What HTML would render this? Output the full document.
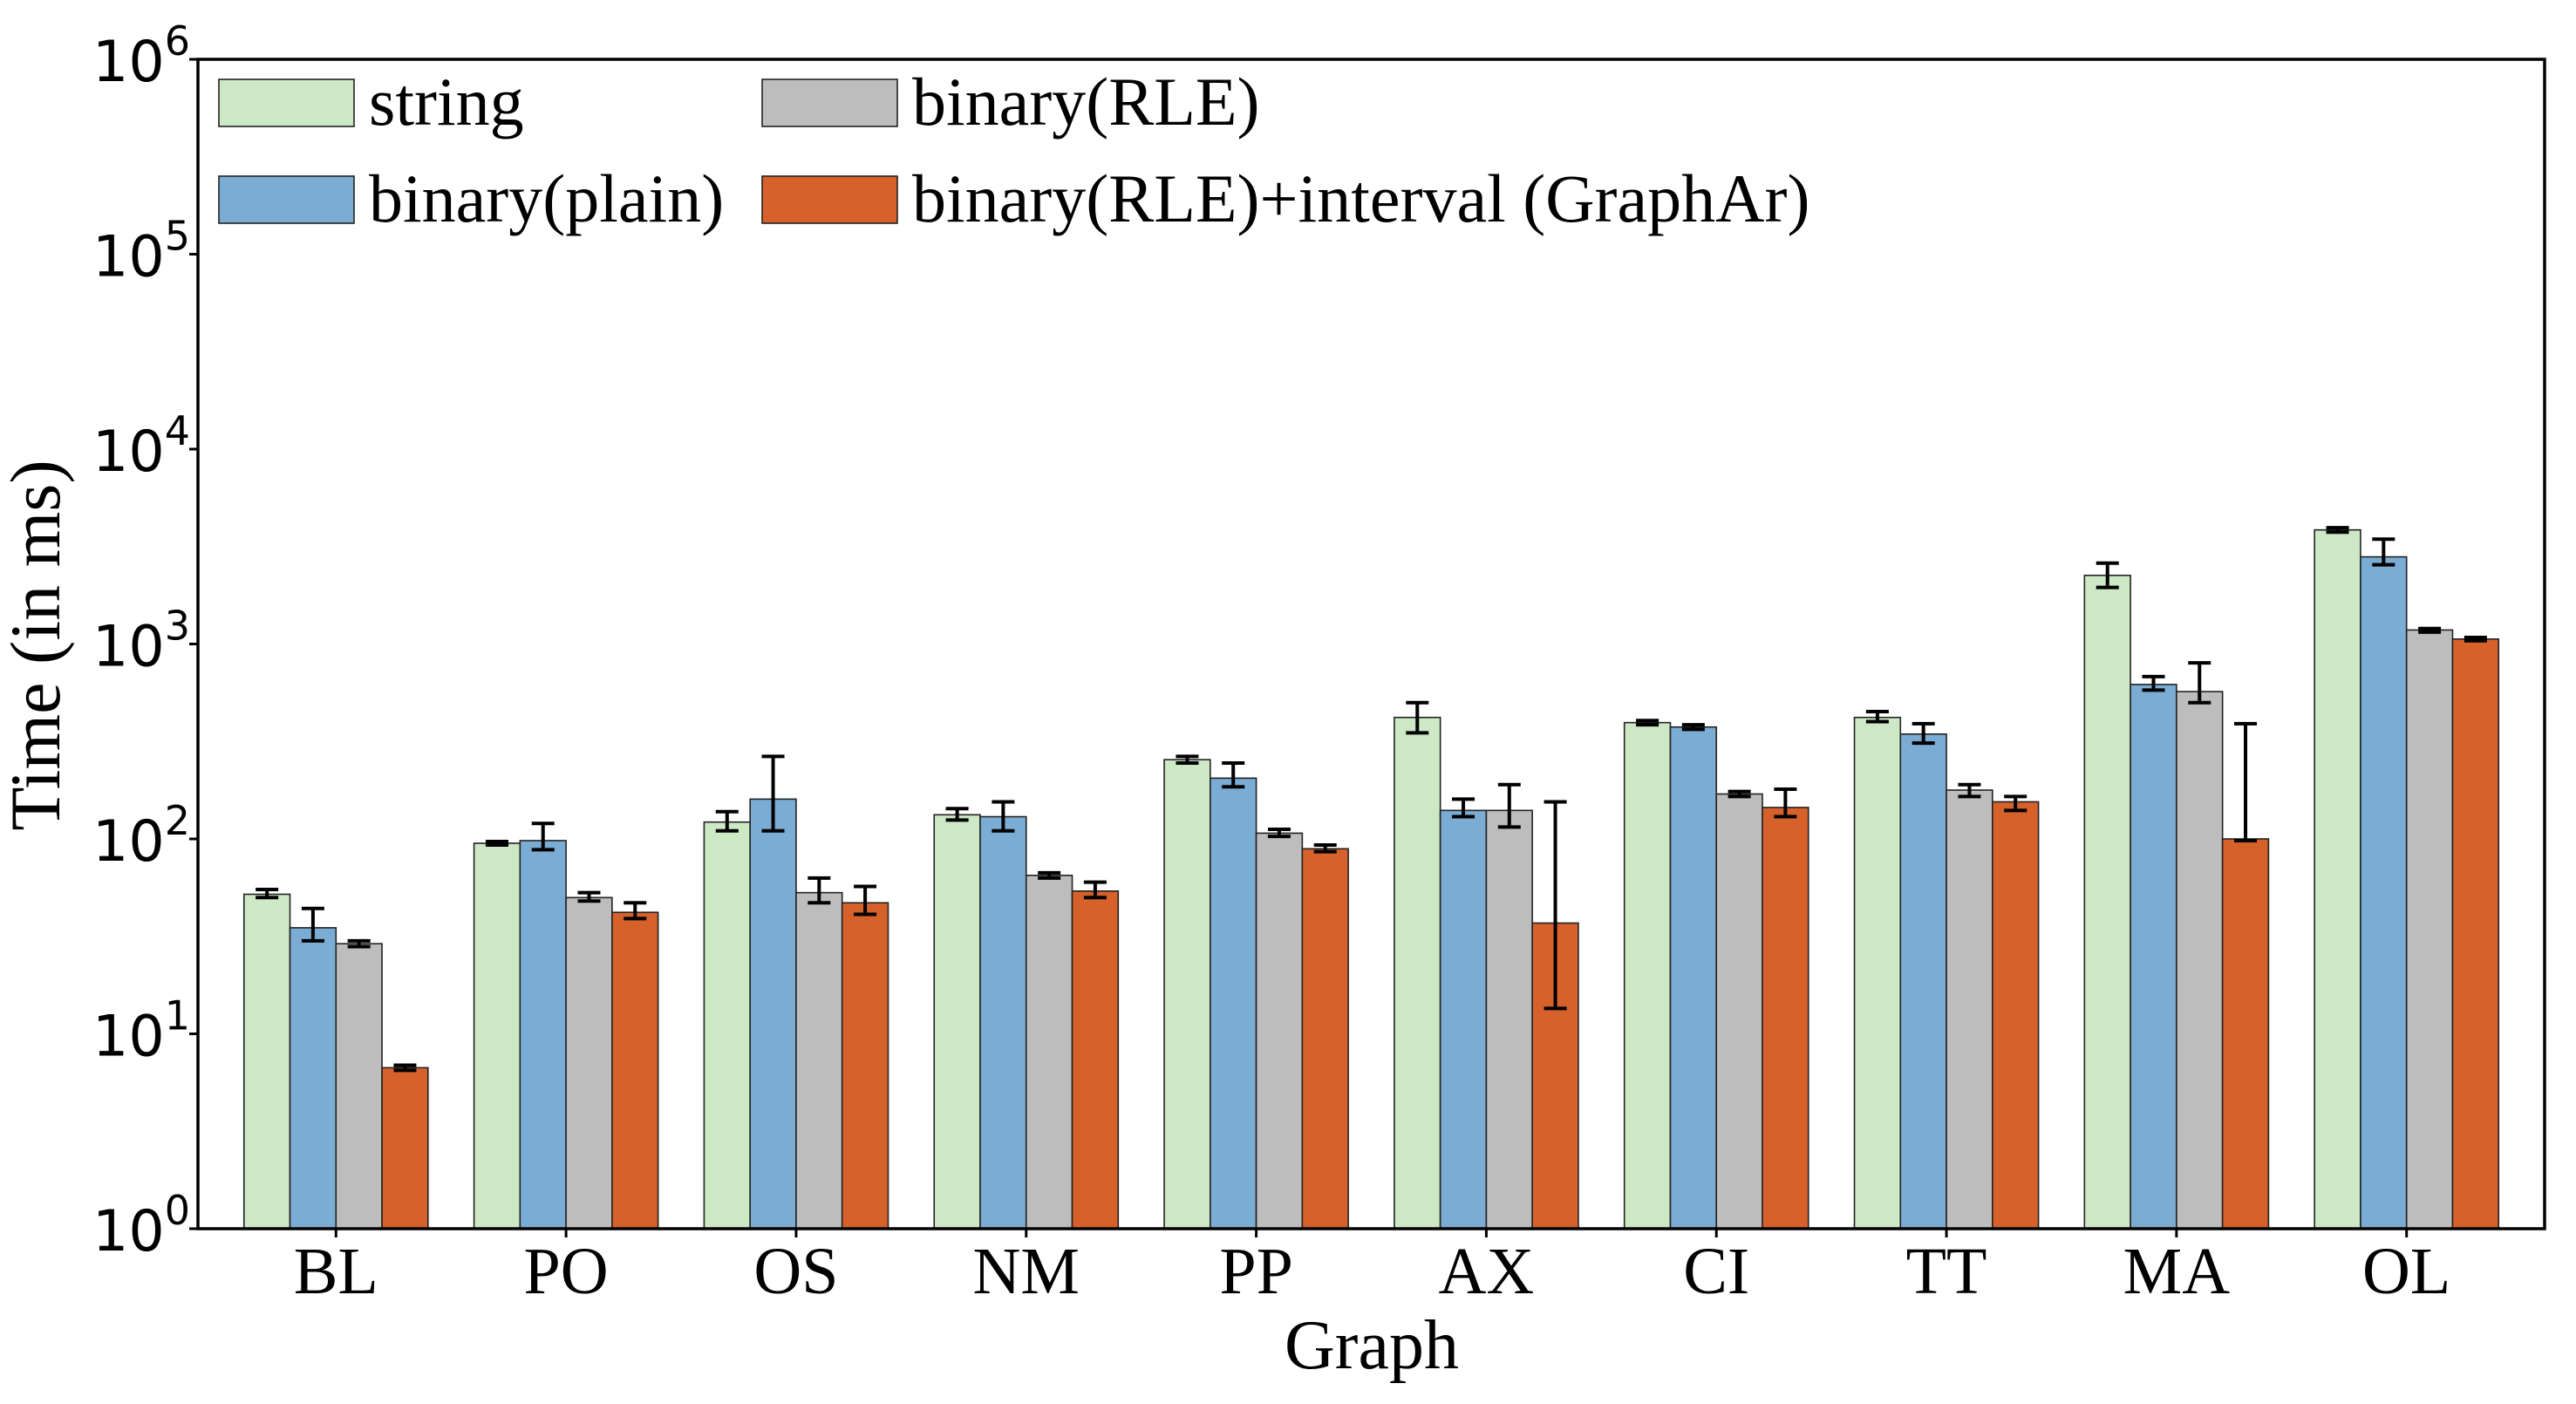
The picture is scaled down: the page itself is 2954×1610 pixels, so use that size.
<!DOCTYPE html>
<html><head><meta charset="utf-8"><style>
html,body{margin:0;padding:0;background:#fff;}
svg{display:block;}
.tm{font-family:"Liberation Serif",serif;fill:#000;}
.dj{font-family:"DejaVu Sans",sans-serif;fill:#000;}
</style></head><body>
<svg id="chart" width="2954" height="1610" viewBox="0 0 2954 1610" xmlns="http://www.w3.org/2000/svg">
<g id="bars"></g>
<g id="errs"></g>
<g id="axes"></g>
<g id="legend"></g>
</svg>
<script>
const categories = ["BL","PO","OS","NM","PP","AX","CI","TT","MA","OL"];
const seriesNames = ["string","binary(plain)","binary(RLE)","binary(RLE)+interval (GraphAr)"];
const stringVals = [52,95,122,133,255,420,395,420,2250,3850];
const stringLo = [50,93,110,125,245,350,385,400,1950,3750];
const stringHi = [55,97,138,143,265,500,405,450,2600,3950];
const plainVals = [35,98,160,130,205,140,375,345,620,2800];
const plainLo = [30,88,110,110,185,130,365,310,580,2550];
const plainHi = [44,120,265,155,245,160,385,390,680,3450];
const rleVals = [29,50,53,65,107,140,170,178,570,1180];
const rleLo = [28,48,47,63,103,115,165,165,500,1150];
const rleHi = [30,53,63,67,112,190,175,190,800,1200];
const graphArVals = [6.7,42,47,54,89,37,145,155,100,1060];
const graphArLo = [6.5,39,41,50,86,13.5,130,140,98,1040];
const graphArHi = [6.9,47,57,60,93,155,180,165,390,1080];
const yTickExps = [0,1,2,3,4,5,6];

const NS="http://www.w3.org/2000/svg";
const L=227,R=2918,T=68,B=1409;
const step=(R-L)/(categories.length-1+1.2);
const bw=step*0.2;
function xC(i){return L+step*0.6+i*step;}
function yS(v){return B-(Math.log10(v)-0)/6*(B-T);}
function mk(tag,attrs,parent){const e=document.createElementNS(NS,tag);for(const k in attrs)e.setAttribute(k,attrs[k]);parent.appendChild(e);return e;}
const colors=["#cde8c5","#7bacd3","#bdbdbd","#d6612b"];
const vals=[stringVals,plainVals,rleVals,graphArVals];
const los=[stringLo,plainLo,rleLo,graphArLo];
const his=[stringHi,plainHi,rleHi,graphArHi];
const gb=document.getElementById('bars'),ge=document.getElementById('errs'),ga=document.getElementById('axes'),gl=document.getElementById('legend');
for(let s=0;s<4;s++){
  for(let i=0;i<categories.length;i++){
    const x=xC(i)-2*bw+s*bw, y=yS(vals[s][i]);
    const r=mk('rect',{x:x,y:y,width:bw,height:B-y,fill:colors[s],stroke:'#222','stroke-width':1.6},gb);
    
    
    const cx=x+bw/2, y1=yS(los[s][i]), y2=yS(his[s][i]);
    const g=mk('g',{stroke:'#000','stroke-width':4},ge);
    
    
    mk('line',{x1:cx,x2:cx,y1:y1,y2:y2},g);
    mk('line',{x1:cx-13,x2:cx+13,y1:y1,y2:y1},g);
    mk('line',{x1:cx-13,x2:cx+13,y1:y2,y2:y2},g);
  }
}
const fr=mk('rect',{x:L,y:T,width:R-L,height:B-T,fill:'none',stroke:'#000','stroke-width':3.5},ga);


yTickExps.forEach(e=>{
  const y=yS(Math.pow(10,e));
  mk('line',{x1:L-10,x2:L,y1:y,y2:y,stroke:'#000','stroke-width':3},ga);
  const t=mk('text',{x:106,y:y+25,class:'dj','font-size':65},ga);
  
  
  t.textContent='10';
  const sp=mk('tspan',{dy:-30,'font-size':46},t);
  sp.textContent=String(e);
});
categories.forEach((c,i)=>{
  const x=xC(i);
  mk('line',{x1:x,x2:x,y1:B,y2:B+10,stroke:'#000','stroke-width':3},ga);
  const t=mk('text',{x:x,y:1483,class:'tm','font-size':76,'text-anchor':'middle'},ga);
  
  
  t.textContent=c;
});
const xt=mk('text',{x:1573,y:1569,class:'tm','font-size':80,'text-anchor':'middle'},ga);


xt.textContent='Graph';
const yt=mk('text',{x:0,y:0,class:'tm','font-size':82,'text-anchor':'middle',transform:'translate(68,740) rotate(-90)'},ga);


yt.textContent='Time (in ms)';
const lpos=[[251,91],[251,202],[874,91],[874,202]];
const order=[0,1,2,3];
order.forEach((s,k)=>{
  const [x,y]=lpos[k];
  const g=mk('g',{},gl);
  
  
  mk('rect',{x:x,y:y,width:155,height:54,fill:colors[s],stroke:'#222','stroke-width':1.6},g);
  const t=mk('text',{x:x+172,y:y+52,class:'tm','font-size':78},g);
  t.textContent=seriesNames[s];
});
</script>
</body></html>
